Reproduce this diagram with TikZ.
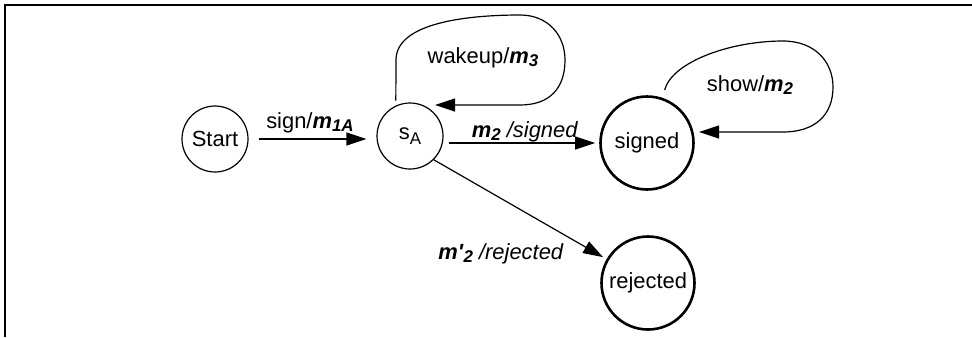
\documentclass[tikz,border=0pt]{standalone}
\usepackage{fontspec}
\setmainfont{Liberation Sans}
\usetikzlibrary{arrows.meta}
\newcommand{\msg}[2]{\textbf{\textit{#1}}\raisebox{-0.3ex}{\fontsize{17}{20}\selectfont\textbf{\textit{#2}}}}
\begin{document}
\begin{tikzpicture}[x=1bp,y=-1bp,
	every node/.style={font=\fontsize{22}{26}\selectfont},
	state/.style={circle,draw,line width=1.2bp,inner sep=0pt,minimum size=66bp},
	final/.style={circle,draw,line width=2.6bp,inner sep=0pt,minimum size=93bp},
	trans/.style={line width=1.2bp,-{Triangle[length=20bp,width=13bp]}},
	lbl/.style={anchor=base,inner sep=0pt}]
	\useasboundingbox (0,0) rectangle (972,337);
	\draw[line width=2bp] (5,337) -- (5,5) -- (972,5);
	% states
	\node[state] (start) at (215,139) {Start};
	\node[state] (sa) at (410,136) {s\raisebox{-0.4ex}{\fontsize{17}{20}\selectfont A}};
	\node[final] (signed) at (647,143) {signed};
	\node[final] (rej) at (648,283) {rejected};
	% transitions
	\draw[trans,shorten <=10bp,shorten >=10bp] (start.east) -- (sa.west |- start.east);
	\draw[trans,shorten <=5bp,shorten >=4bp] (sa.east |- signed) -- (signed.west);
	\draw[trans,shorten >=4bp] (sa.-45) -- (rej);
	\coordinate (wakeend) at (435,105);
	\draw[trans,shorten <=5bp] (sa.115) -- (396,60) .. controls (396,22) and (470,15) .. (520,15) .. controls (548,15) and (565,35) .. (565,60) .. controls (565,88) and (550,105) .. (520,105) -- (wakeend);
	\coordinate (showend) at (699,132);
	\draw[trans,shorten <=8bp] (signed.71) .. controls (672,62) and (730,41) .. (783,41) .. controls (815,41) and (833,62) .. (833,87) .. controls (833,115) and (815,132) .. (783,132) -- (showend);
	% labels
	\node[lbl] (lsign) at (310,128) {sign/\msg{m}{1A}};
	\node[lbl] (lwake) at (483,63) {wakeup/\msg{m}{3}};
	\node[lbl] (lsigned) at (525,137) {\msg{m}{2} \textit{/signed}};
	\node[lbl] (lrej) at (501,259) {\msg{m\textquotesingle}{2} \textit{/rejected}};
	\node[lbl] (lshow) at (750,91) {show/\msg{m}{2}};
\end{tikzpicture}
\end{document}
